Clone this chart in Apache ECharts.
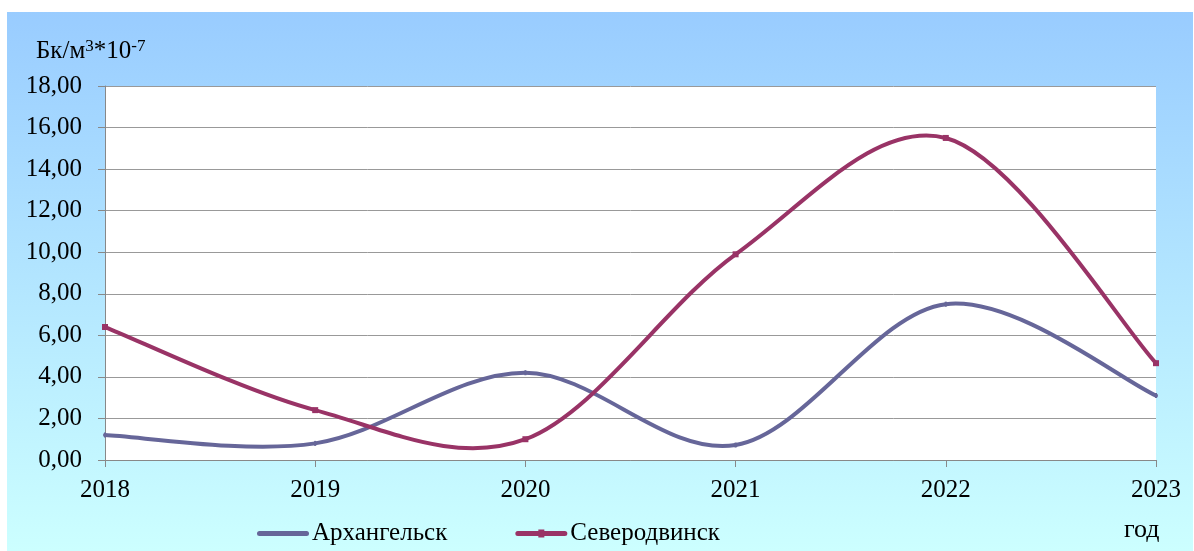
<!DOCTYPE html>
<html>
<head>
<meta charset="utf-8">
<script src="https://cdn.jsdelivr.net/npm/echarts@6/dist/echarts.min.js"></script>
<style>
    html, body { margin: 0; padding: 0; background: #fff; }
    #bg { position: absolute; left: 7px; top: 12px; width: 1186px; height: 539px;
          background: linear-gradient(to bottom, #99ccff 0%, #ccffff 100%); }
    #chart { position: absolute; left: 0; top: 0; width: 1194px; height: 551px; }
</style>
</head>
<body>
<div id="bg"></div>
<div id="chart"></div>
<script>
// данные с графика
var years = ['2018', '2019', '2020', '2021', '2022', '2023'];
var arkhangelsk = [1.20, 0.80, 4.20, 0.72, 7.50, 3.10];
var severodvinsk = [6.40, 2.40, 1.00, 9.90, 15.50, 4.66];
var yTicks = [0, 2, 4, 6, 8, 10, 12, 14, 16, 18];

var font = 'Liberation Serif';
var chart = echarts.init(document.getElementById('chart'));

// сглаженная линия как в Excel (Catmull-Rom), точки берутся через api.coord
function curveSeries(name, arr, color, marker) {
    return {
        name: name, type: 'custom',
        data: arr.map(function (v, i) { return [i, v]; }),
        encode: { x: 0, y: 1 },
        itemStyle: { color: color },
        renderItem: function (params, api) {
            var i = params.dataIndex, n = arr.length;
            var p = function (k) {
                k = Math.max(0, Math.min(n - 1, k));
                return api.coord([k, arr[k]]);
            };
            var children = [];
            if (i < n - 1) {
                var p0 = p(i - 1), p1 = p(i), p2 = p(i + 1), p3 = p(i + 2);
                children.push({
                    type: 'bezierCurve',
                    shape: {
                        x1: p1[0], y1: p1[1], x2: p2[0], y2: p2[1],
                        cpx1: p1[0] + (p2[0] - p0[0]) / 6, cpy1: p1[1] + (p2[1] - p0[1]) / 6,
                        cpx2: p2[0] - (p3[0] - p1[0]) / 6, cpy2: p2[1] - (p3[1] - p1[1]) / 6
                    },
                    style: { stroke: color, lineWidth: 4, fill: null, lineCap: 'round' }
                });
            }
            var c = p(i);
            children.push({
                type: 'rect', z2: 10,
                shape: { x: c[0] - marker[0] / 2, y: c[1] - marker[1] / 2, width: marker[0], height: marker[1] },
                style: { fill: color }
            });
            return { type: 'group', children: children };
        }
    };
}

var option = {
    textStyle: { fontFamily: font },
    title: {
        text: 'Бк/м{sup|3}*10{sup|-7}',
        left: 31, top: 33,
        textStyle: {
            fontFamily: font, fontSize: 25, fontWeight: 'normal', color: '#000',
            rich: {
                sup: { fontFamily: font, fontSize: 17, color: '#000', padding: [0, 0, 10, 0] }
            }
        }
    },
    graphic: [{
        type: 'text', left: 1124, top: 517,
        style: { text: 'год', font: '26px "Liberation Serif"', fill: '#000' }
    }],
    legend: {
        top: 516, left: 252,
        itemWidth: 52, itemHeight: 8, itemGap: 68,
        textStyle: { fontFamily: font, fontSize: 25, color: '#000', padding: [0, 0, 0, -2] },
        data: [
            { name: 'Архангельск', icon: 'path://M2.5,1.5H49.5A2.5,2.5,0,0,1,49.5,6.5H2.5A2.5,2.5,0,0,1,2.5,1.5Z' },
            { name: 'Северодвинск', icon: 'path://M2.5,1.5H49.5A2.5,2.5,0,0,1,49.5,6.5H2.5A2.5,2.5,0,0,1,2.5,1.5Z M23,0H29V8H23Z' }
        ]
    },
    grid: {
        left: 105, right: 38, top: 86, bottom: 91,
        show: true, backgroundColor: '#fff', borderWidth: 0
    },
    xAxis: {
        type: 'category', data: years, boundaryGap: false,
        axisLine: { lineStyle: { color: '#888' } },
        axisTick: { length: 7, lineStyle: { color: '#888' } },
        axisLabel: { fontFamily: font, fontSize: 25, color: '#000', margin: 18 }
    },
    yAxis: {
        type: 'value', min: yTicks[0], max: yTicks[yTicks.length - 1], interval: 2,
        axisLine: { show: true, lineStyle: { color: '#888' } },
        axisTick: { show: true, length: 7, lineStyle: { color: '#888' } },
        splitLine: { lineStyle: { color: '#999' } },
        axisLabel: {
            fontFamily: font, fontSize: 25, color: '#000', margin: 23,
            formatter: function (v) { return v.toFixed(2).replace('.', ','); }
        }
    },
    series: [
        curveSeries('Архангельск', arkhangelsk, '#666699', [2, 5]),
        curveSeries('Северодвинск', severodvinsk, '#993366', [6, 6])
    ]
};

chart.setOption(option);
</script>
</body>
</html>
